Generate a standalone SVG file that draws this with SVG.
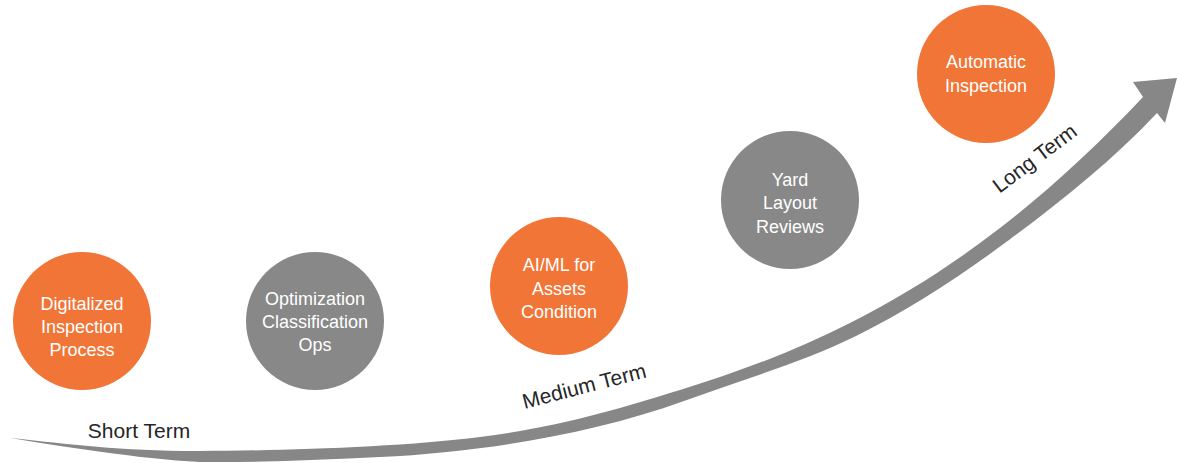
<svg xmlns="http://www.w3.org/2000/svg" width="1177" height="463" viewBox="0 0 1177 463">
<style>
.orange{fill:#F07537}
.grey{fill:#888888}
.ct{font-family:"Liberation Sans",Arial,sans-serif;font-size:18px;fill:#FFFFFF;text-anchor:middle}
.lbl{font-family:"Liberation Sans",Arial,sans-serif;font-size:21px;fill:#262626;text-anchor:middle}
</style>
<rect width="1177" height="463" fill="#FFFFFF"/>
<g id="connectors">
<path id="timeline-arrow" fill="#878787" d="M10,438 C70,444 121.7,451.2 200,451 C278.3,450.8 400,447.2 480,437 C560,426.8 618.3,409 680,390 C741.7,371 796.7,350 850,323 C903.3,296 951.2,265.7 1000,228 C1048.8,190.3 1098,145 1143,97 L1133,82 L1177,78 L1165,123 L1157,113 C1112,161 1059.2,202.8 1009,240 C958.8,277.2 910.2,309.2 856,336 C801.8,362.8 738,381 684,401 C590,435 480,452 380,457 C320,460 260,462.5 200,462 C138.3,458.8 60,446 10,438 Z"/>
</g>
<g id="label-short"><text class="lbl" x="139" y="438">Short Term</text></g>
<g id="label-medium"><text class="lbl" transform="translate(586,393) rotate(-14.5)" x="0" y="0">Medium Term</text></g>
<g id="label-long"><text class="lbl" transform="translate(1039,164) rotate(-37)" x="0" y="0">Long Term</text></g>
<g id="node-digitalized">
<circle class="orange" cx="82" cy="321" r="69"/>
<text class="ct" x="82" y="310">Digitalized</text>
<text class="ct" x="82" y="333">Inspection</text>
<text class="ct" x="82" y="356">Process</text>
</g>
<g id="node-optimization">
<circle class="grey" cx="315" cy="321" r="69"/>
<text class="ct" x="315" y="305">Optimization</text>
<text class="ct" x="315" y="328">Classification</text>
<text class="ct" x="315" y="351">Ops</text>
</g>
<g id="node-aiml">
<circle class="orange" cx="559" cy="286" r="69"/>
<text class="ct" x="559" y="271">AI/ML for</text>
<text class="ct" x="559" y="295">Assets</text>
<text class="ct" x="559" y="318">Condition</text>
</g>
<g id="node-yard">
<circle class="grey" cx="790" cy="200" r="69"/>
<text class="ct" x="790" y="186">Yard</text>
<text class="ct" x="790" y="209">Layout</text>
<text class="ct" x="790" y="233">Reviews</text>
</g>
<g id="node-automatic">
<circle class="orange" cx="986" cy="74" r="69"/>
<text class="ct" x="986" y="68">Automatic</text>
<text class="ct" x="986" y="92">Inspection</text>
</g>
</svg>
